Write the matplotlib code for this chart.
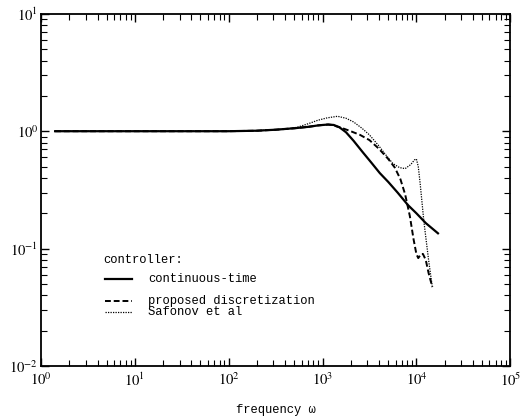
import numpy as np
import matplotlib
matplotlib.use("Agg")
import matplotlib.pyplot as plt

# (log10 of frequency, magnitude)
cont_logw = [0.15, 1.0, 2.0, 2.3, 2.5, 2.7, 2.85, 2.95, 3.0, 3.06, 3.12, 3.18, 3.25, 3.33,
             3.43, 3.52, 3.61, 3.7, 3.8, 3.91, 4.0, 4.1, 4.23]
cont_mag = [1.0, 1.0, 1.0, 1.01, 1.03, 1.06, 1.09, 1.12, 1.13, 1.14, 1.13, 1.08, 0.98, 0.83,
            0.66, 0.54, 0.44, 0.37, 0.30, 0.235, 0.2, 0.165, 0.135]

disc_logw = [0.15, 1.0, 2.0, 2.3, 2.5, 2.7, 2.85, 2.95, 3.0, 3.06, 3.1, 3.2, 3.3, 3.4, 3.5,
             3.6, 3.7, 3.77, 3.83, 3.88, 3.93, 3.97, 4.0, 4.02, 4.05, 4.07, 4.1, 4.13, 4.17]
disc_mag = [1.0, 1.0, 1.0, 1.01, 1.03, 1.06, 1.09, 1.12, 1.13, 1.14, 1.13, 1.07, 1.0, 0.93, 0.84,
            0.71, 0.58, 0.49, 0.39, 0.29, 0.19, 0.12, 0.09, 0.083, 0.09, 0.09, 0.08, 0.062, 0.047]

saf_logw = [0.15, 1.0, 2.0, 2.3, 2.5, 2.6, 2.73, 2.85, 2.95, 3.05, 3.16, 3.25, 3.33, 3.42, 3.5,
            3.6, 3.68, 3.75, 3.82, 3.88, 3.94, 3.98, 4.0, 4.02, 4.04, 4.08, 4.13, 4.17]
saf_mag = [1.0, 1.0, 1.0, 1.01, 1.03, 1.04, 1.08, 1.16, 1.24, 1.3, 1.34, 1.29, 1.2, 1.06, 0.93,
           0.75, 0.62, 0.53, 0.49, 0.48, 0.52, 0.57, 0.58, 0.5, 0.36, 0.17, 0.08, 0.047]

labels = ["continuous-time", "proposed discretization", "Safonov et al"]

plt.rcParams["font.family"] = "STIXGeneral"
plt.rcParams["mathtext.fontset"] = "stix"
mono = "Liberation Mono"

fig = plt.figure(figsize=(5.26, 4.19), dpi=100)
ax = fig.add_axes([0.078, 0.1265, 0.892, 0.8405])

styles = [dict(lw=1.6, ls="-"), dict(lw=1.4, ls=(0, (3, 1.5))), dict(lw=0.9, ls=(0, (1, 1)))]
series = [(cont_logw, cont_mag), (disc_logw, disc_mag), (saf_logw, saf_mag)]
for (lw_, mag), st in zip(series, styles):
    ax.plot(10 ** np.array(lw_), mag, color="black", **st)

ax.set_xscale("log")
ax.set_yscale("log")
ax.set_xlim(1, 1e5)
ax.set_ylim(1e-2, 1e1)

ax.tick_params(which="both", direction="in", top=True, right=True, labelsize=10.5)
ax.tick_params(which="major", length=6, width=1)
ax.tick_params(which="minor", length=4, width=0.8)
ax.tick_params(axis="y", pad=2)
ax.tick_params(axis="x", pad=4)
for s in ax.spines.values():
    s.set_linewidth(1.3)

ax.set_xlabel("frequency ω", family=mono, fontsize=8.7, labelpad=11)

# legend laid out like the original (uneven row gaps)
ax.text(0.132, 0.301, "controller:", transform=ax.transAxes, family=mono,
        fontsize=8.7, va="center", ha="left")
rows_y = [0.247, 0.185, 0.153]
for y, lab, st in zip(rows_y, labels, styles):
    ax.plot([0.136, 0.194], [y, y], transform=ax.transAxes, color="black", **st)
    ax.text(0.228, y, lab, transform=ax.transAxes, family=mono, fontsize=8.7,
            va="center", ha="left")

fig.savefig("out.png", dpi=100)
